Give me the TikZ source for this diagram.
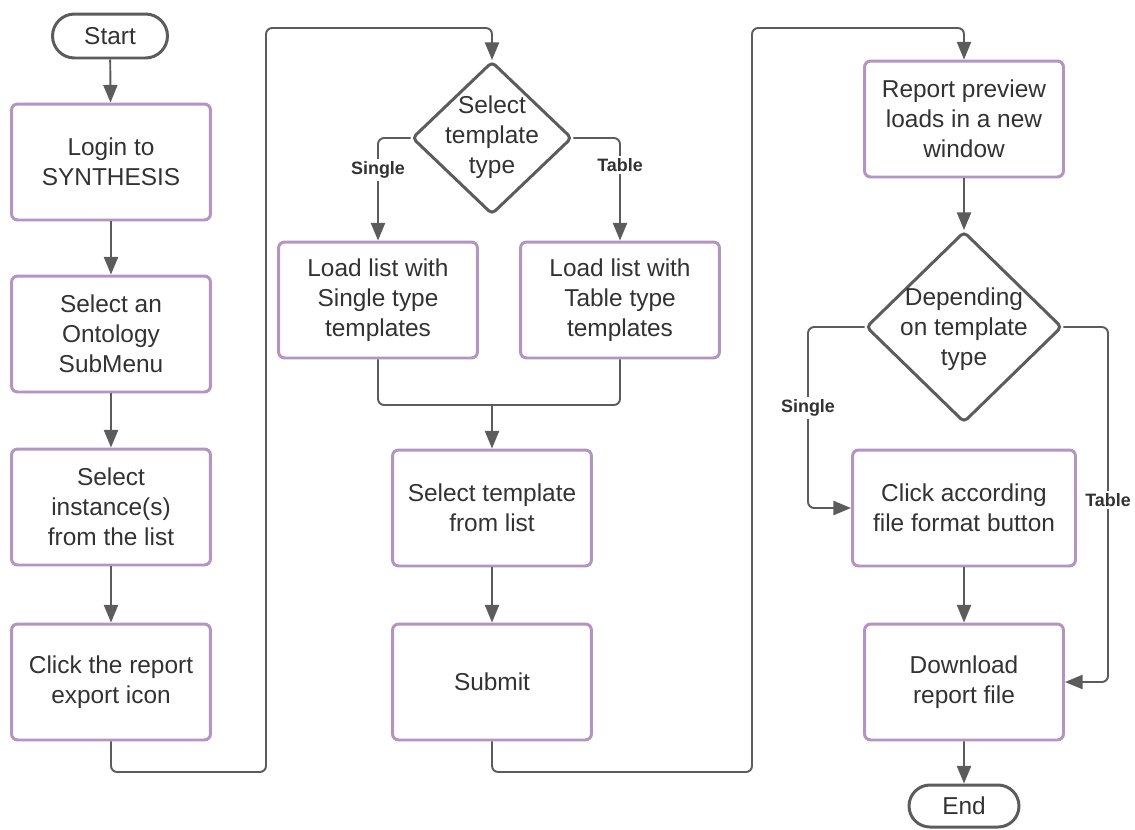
\documentclass[tikz,border=0pt]{standalone}
\usepackage{fontspec}
\setmainfont{Liberation Sans}
\usetikzlibrary{shapes.geometric,shapes.misc,arrows.meta}
\definecolor{boxc}{RGB}{180,148,193}
\definecolor{linec}{RGB}{92,92,92}
\definecolor{txtc}{RGB}{50,50,50}
\begin{document}
\begin{tikzpicture}[x=0.02cm,y=-0.02cm,
  font=\fontsize{13.9}{17}\selectfont, text=txtc,
  procbox/.style={draw=boxc, line width=1.7pt, rounded corners=3.5pt, minimum width=3.98cm, minimum height=2.32cm, align=center, inner sep=0pt},
  termbox/.style={draw=linec, line width=1.7pt, rounded rectangle, minimum width=2.3cm, minimum height=0.88cm, inner sep=0pt},
  decbox/.style={draw=linec, line width=1.7pt, diamond, inner sep=0pt, rounded corners=2.5pt},
  conn/.style={draw=linec, line width=1.1pt, rounded corners=3.5pt},
  arr/.style={conn, -{Triangle[length=10pt,width=8pt]}},
  lbl/.style={fill=white, font=\fontsize{10.2}{12}\selectfont\bfseries, inner sep=1.5pt}
]
\useasboundingbox (0,0) rectangle (1135,829);
% column 1
\node[termbox] (start) at (110,36) {Start};
\node[procbox] (login) at (111,162) {Login to\\SYNTHESIS};
\node[procbox] (onto) at (111,334) {Select an\\Ontology\\SubMenu};
\node[procbox] (inst) at (111,507) {Select\\instance(s)\\from the list};
\node[procbox] (export) at (111,682) {Click the report\\export icon};
% column 2
\node[decbox, minimum width=3.2cm, minimum height=3.06cm] (d1) at (492,138) {};
\node[align=center] at (492,137) {Select\\template\\type};
\node[procbox] (loadS) at (378,300) {Load list with\\Single type\\templates};
\node[procbox] (loadT) at (620,300) {Load list with\\Table type\\templates};
\node[procbox] (seltpl) at (492,508) {Select template\\from list};
\node[procbox] (submit) at (492,682) {Submit};
% column 3
\node[procbox] (report) at (964,119) {Report preview\\loads in a new\\window};
\node[decbox, minimum width=3.92cm, minimum height=3.82cm] (d2) at (964,327) {};
\node[align=center] at (964,329) {Depending\\on template\\type};
\node[procbox, minimum width=4.46cm] (clickf) at (964,508) {Click according\\file format button};
\node[procbox] (download) at (964,682) {Download\\report file};
\node[termbox, minimum width=2.2cm, minimum height=0.84cm] (end) at (964,806) {End};
% connectors column 1
\draw[arr] (start) -- (login);
\draw[arr] (login) -- (onto);
\draw[arr] (onto) -- (inst);
\draw[arr] (inst) -- (export);
\draw[arr] (export.south) -- (111,772) -- (266,772) -- (266,28) -- (492,28) -- (d1.north);
% column 2
\draw[arr] (d1.west) -| (loadS.north);
\node[lbl] at (378,170) {Single};
\draw[arr] (d1.east) -| (loadT.north);
\node[lbl] at (620,165) {Table};
\coordinate (m) at (492,405);
\draw[conn] (loadS.south) |- (m);
\draw[conn] (loadT.south) |- (m);
\draw[arr] (m) -- (seltpl.north);
\draw[arr] (seltpl) -- (submit);
\draw[arr] (submit.south) -- (492,772) -- (752,772) -- (752,28) -- (964,28) -- (report.north);
% column 3
\draw[arr] (report) -- (d2.north);
\draw[arr] (d2.west) -- (808,327) |- (clickf.west);
\node[lbl] at (808,408) {Single};
\draw[arr] (d2.east) -- (1108,327) |- (download.east);
\node[lbl] at (1108,500) {Table};
\draw[arr] (clickf) -- (download);
\draw[arr] (download) -- (end);
\end{tikzpicture}
\end{document}
